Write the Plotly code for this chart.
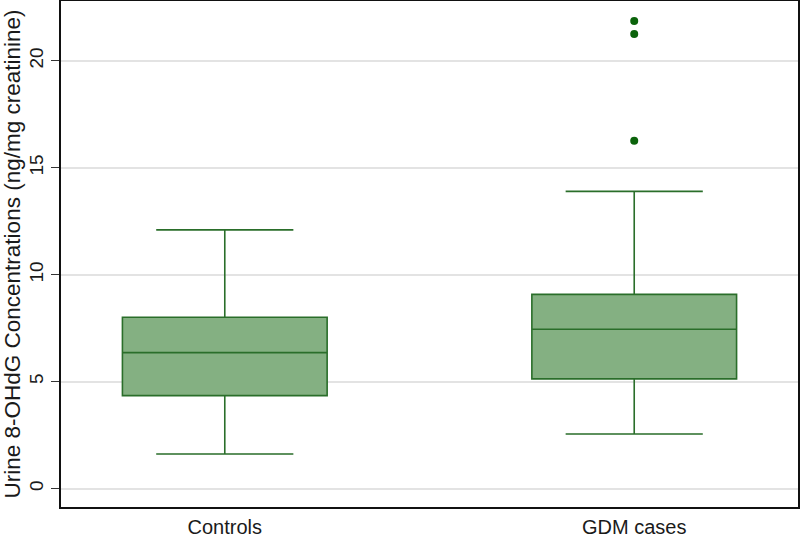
import plotly.graph_objects as go

# Data
groups = ["Controls", "GDM cases"]
q1 = [4.35, 5.13]
median = [6.36, 7.45]
q3 = [8.01, 9.08]
lower_whisker = [1.62, 2.55]
upper_whisker = [12.10, 13.90]
outlier_group = ["GDM cases", "GDM cases", "GDM cases"]
outlier_values = [21.87, 21.26, 16.26]
y_ticks = [0, 5, 10, 15, 20]

line_col = "#2a6e2a"
fill_col = "#84b082"
dot_col = "#0b630b"

fig = go.Figure()
for i, g in enumerate(groups):
    fig.add_trace(go.Box(
        x=[g], q1=[q1[i]], median=[median[i]], q3=[q3[i]],
        lowerfence=[lower_whisker[i]], upperfence=[upper_whisker[i]],
        boxpoints=False, width=0.5, whiskerwidth=0.67,
        fillcolor=fill_col, line=dict(color=line_col, width=1.6),
        showlegend=False, hoverinfo="skip",
    ))

fig.add_trace(go.Scatter(
    x=outlier_group, y=outlier_values, mode="markers",
    marker=dict(color=dot_col, size=8, line=dict(width=0)),
    showlegend=False, hoverinfo="skip",
))

fig.update_layout(
    width=800, height=538,
    margin=dict(l=61, r=2, t=1, b=31),
    paper_bgcolor="white", plot_bgcolor="white",
    font=dict(family="Liberation Sans, Arial, sans-serif", color="#1a1a1a"),
)
fig.update_xaxes(
    type="category", categoryorder="array", categoryarray=groups,
    range=[-0.4, 1.4], showgrid=False, zeroline=False,
    showline=True, linecolor="#111111", linewidth=2, mirror=True,
    ticks="", tickfont=dict(size=20), ticklabelstandoff=1, automargin=False,
)
fig.update_yaxes(
    range=[-0.86, 22.8], tickvals=y_ticks,
    ticktext=[str(v) for v in y_ticks],
    showgrid=True, gridcolor="#e3e3e3", gridwidth=1.5, zeroline=False,
    showline=True, linecolor="#111111", linewidth=2, mirror=True,
    ticks="outside", ticklen=8, tickcolor="#333333", tickwidth=1,
    tickangle=-90, tickfont=dict(size=19), automargin=False,
    title=dict(text="Urine 8-OHdG Concentrations (ng/mg creatinine)",
               font=dict(size=22.5), standoff=2),
)

fig.write_html("out.html", config={"displayModeBar": False},
               post_script="document.body.style.margin='0';")
